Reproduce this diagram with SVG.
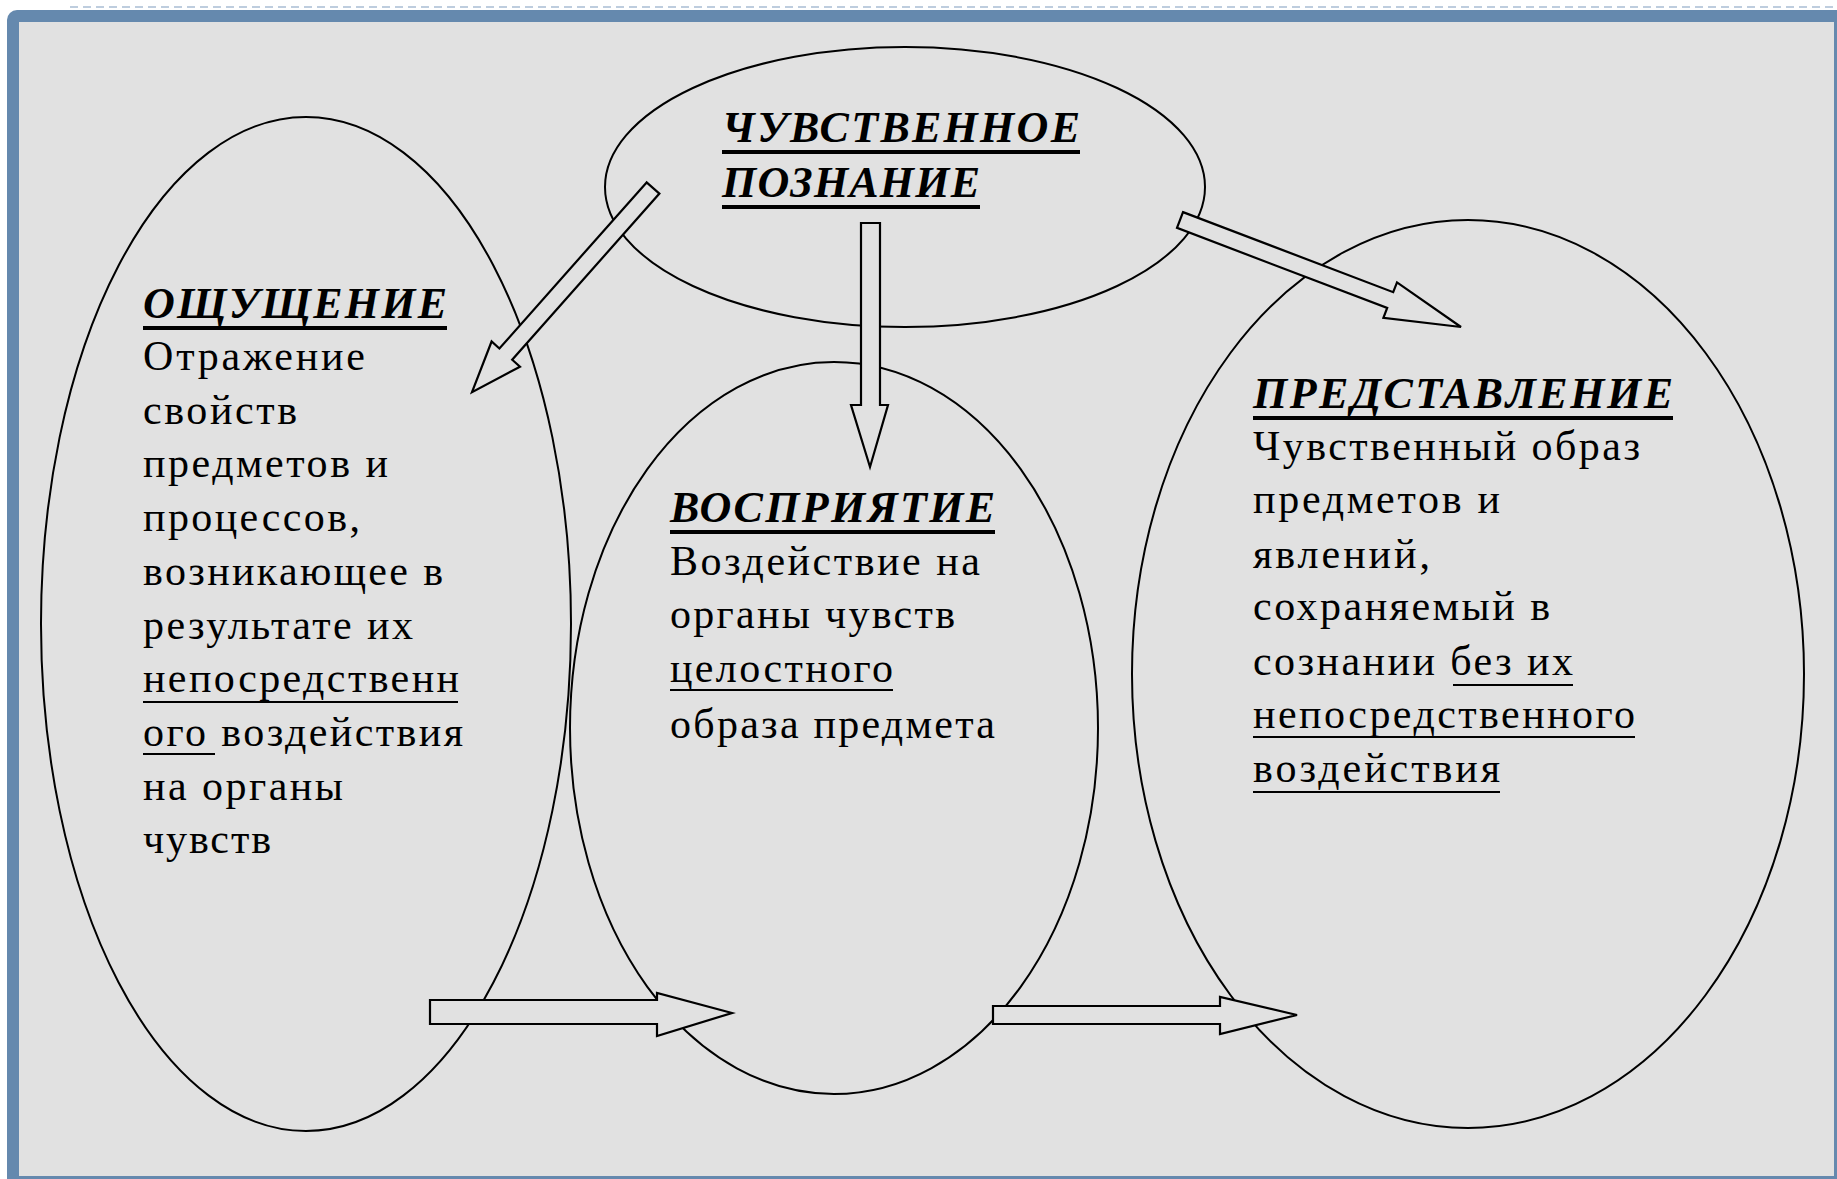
<svg xmlns="http://www.w3.org/2000/svg" width="1837" height="1179" viewBox="0 0 1837 1179">
  <defs>
    <style>
      .oval { fill: none; stroke: #000; stroke-width: 2; }
      .arrow { fill: #e1e1e1; stroke: #000; stroke-width: 2.2; stroke-linejoin: miter; }
      .head { font-family: "Liberation Serif", "Times New Roman", serif; font-weight: bold; font-style: italic; font-size: 44px; fill: #000; }
      .body { font-family: "Liberation Serif", "Times New Roman", serif; font-size: 42px; fill: #000; }
      .ulh { stroke: #000; stroke-width: 4; }
      .ulb { stroke: #000; stroke-width: 2; }
    </style>
  </defs>

  <!-- frame -->
  <rect x="0" y="0" width="1837" height="1179" fill="#ffffff"/>
  <line x1="70" y1="7" x2="1837" y2="7" stroke="#a9bdd3" stroke-width="1.5" stroke-dasharray="8 5"/>
  <rect x="7" y="10" width="1845" height="1185" rx="10" fill="#6589ae"/>
  <rect x="19" y="22" width="1815" height="1154" fill="#e1e1e1"/>

  <!-- nodes -->
  <g id="node-sensory-cognition">
    <ellipse class="oval" cx="905" cy="187" rx="300" ry="140"/>
    <text class="head" x="722" y="142" textLength="358">ЧУВСТВЕННОЕ</text>
    <line class="ulh" x1="722" y1="152" x2="1080" y2="152"/>
    <text class="head" x="722" y="197" textLength="258">ПОЗНАНИЕ</text>
    <line class="ulh" x1="722" y1="207" x2="980" y2="207"/>
  </g>

  <g id="node-sensation">
    <ellipse class="oval" cx="306" cy="624" rx="265" ry="507"/>
    <text class="head" x="143" y="318" textLength="304">ОЩУЩЕНИЕ</text>
    <line class="ulh" x1="143" y1="328" x2="447" y2="328"/>
    <text class="body" x="143" y="370" textLength="222">Отражение</text>
    <text class="body" x="143" y="424" textLength="154">свойств</text>
    <text class="body" x="143" y="477" textLength="245">предметов и</text>
    <text class="body" x="143" y="531" textLength="217">процессов,</text>
    <text class="body" x="143" y="585" textLength="300">возникающее в</text>
    <text class="body" x="143" y="639" textLength="270">результате их</text>
    <text class="body" x="143" y="692" textLength="316">непосредственн</text>
    <line class="ulb" x1="143" y1="702" x2="458" y2="702"/>
    <text class="body" x="143" y="746" textLength="320">ого воздействия</text>
    <line class="ulb" x1="143" y1="754" x2="215" y2="754"/>
    <text class="body" x="143" y="800" textLength="200">на органы</text>
    <text class="body" x="143" y="853" textLength="128">чувств</text>
  </g>

  <g id="node-perception">
    <ellipse class="oval" cx="834" cy="728" rx="264" ry="366"/>
    <text class="head" x="670" y="522" textLength="325">ВОСПРИЯТИЕ</text>
    <line class="ulh" x1="670" y1="532" x2="995" y2="532"/>
    <text class="body" x="670" y="575" textLength="310">Воздействие на</text>
    <text class="body" x="670" y="628" textLength="285">органы чувств</text>
    <text class="body" x="670" y="682" textLength="223">целостного</text>
    <line class="ulb" x1="670" y1="690" x2="893" y2="690"/>
    <text class="body" x="670" y="738" textLength="325">образа предмета</text>
  </g>

  <g id="node-representation">
    <ellipse class="oval" cx="1468" cy="674" rx="336" ry="454"/>
    <text class="head" x="1253" y="408" textLength="420">ПРЕДСТАВЛЕНИЕ</text>
    <line class="ulh" x1="1253" y1="418" x2="1673" y2="418"/>
    <text class="body" x="1253" y="460" textLength="387">Чувственный образ</text>
    <text class="body" x="1253" y="513" textLength="247">предметов и</text>
    <text class="body" x="1253" y="568" textLength="177">явлений,</text>
    <text class="body" x="1253" y="620" textLength="297">сохраняемый в</text>
    <text class="body" x="1253" y="675" textLength="320">сознании без их</text>
    <line class="ulb" x1="1453" y1="685" x2="1573" y2="685"/>
    <text class="body" x="1253" y="728" textLength="382">непосредственного</text>
    <line class="ulb" x1="1253" y1="737" x2="1635" y2="737"/>
    <text class="body" x="1253" y="782" textLength="247">воздействия</text>
    <line class="ulb" x1="1253" y1="792" x2="1500" y2="792"/>
  </g>

  <!-- connectors -->
  <g id="connectors">
    <polygon class="arrow" points="646.6,182.4 499.4,348.5 491.6,341.5 472,392.2 520,366.7 512.2,359.7 659.4,193.6"/>
    <path class="arrow" d="M861,223 H880 V405 H888 L870,467 L851,405 H861 Z"/>
    <polygon class="arrow" points="1183,212.1 1393.2,292.2 1397,282.4 1461,327 1383.4,317.8 1387.2,308 1177,227.9"/>
    <path class="arrow" d="M430,1000 H657 V993 L732,1013 L657,1036 V1024 H430 Z"/>
    <path class="arrow" d="M993,1006 H1220 V997 L1297,1015 L1220,1034 V1024 H993 Z"/>
  </g>
</svg>
